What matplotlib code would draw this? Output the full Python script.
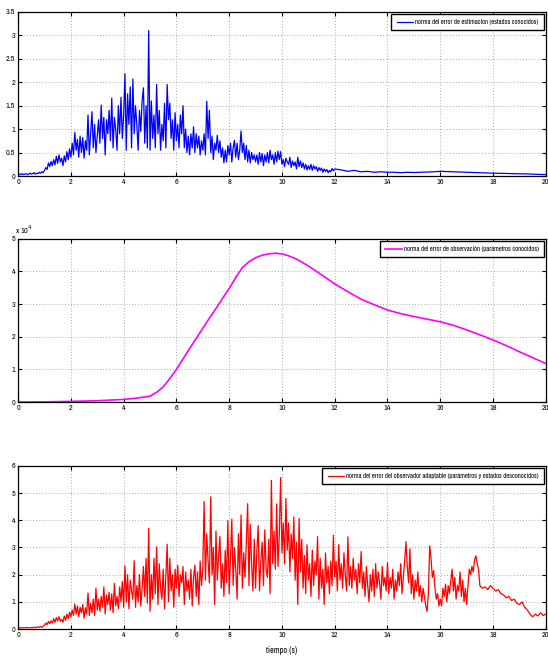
import numpy as np
import matplotlib
matplotlib.use("Agg")
import matplotlib.pyplot as plt
import matplotlib.ticker as ticker
from matplotlib import font_manager

# fuente estrecha tipo Helvetica Narrow, si esta instalada
instaladas = {f.name for f in font_manager.fontManager.ttflist}
candidatas = ["Arial Narrow", "Liberation Sans Narrow", "Archivo Narrow", "PT Sans Narrow",
              "Roboto Condensed", "Fira Sans Condensed", "IBM Plex Sans Condensed", "Asap Condensed"]
estrechas = [c for c in candidatas if c in instaladas]
plt.rcParams["font.family"] = estrechas[:1] + ["Liberation Sans", "DejaVu Sans"]

error_estimacion = [
    0.02, 0.04, 0.03, 0.05, 0.03, 0.04, 0.05, 0.03, 0.04, 0.06, 0.04, 0.05, 0.07, 0.04, 0.06, 0.05, 0.08, 0.06, 0.09, 0.07,
    0.12, 0.18, 0.14, 0.28, 0.20, 0.31, 0.22, 0.35, 0.24, 0.42, 0.27, 0.45, 0.30, 0.38, 0.22, 0.43, 0.30, 0.52, 0.35, 0.58,
    0.40, 0.70, 0.45, 0.93, 0.55, 0.78, 0.40, 0.85, 0.50, 0.82, 0.38, 0.75, 0.55, 1.30, 0.45, 0.90, 1.37, 0.60, 1.10, 0.50,
    0.85, 1.20, 0.70, 1.51, 0.80, 1.25, 0.45, 1.20, 0.90, 1.40, 0.75, 1.66, 0.60, 1.25, 1.00, 0.55, 1.50, 0.90, 1.68, 0.80,
    1.30, 2.18, 0.55, 1.75, 1.10, 1.90, 0.60, 2.07, 0.90, 1.50, 1.10, 0.55, 1.40, 0.95, 1.60, 1.88, 0.70, 1.50, 0.60, 3.10,
    0.55, 1.60, 0.80, 1.30, 0.60, 1.95, 0.90, 1.40, 0.55, 1.10, 0.75, 1.55, 0.60, 1.95, 1.20, 1.55, 0.80, 1.20, 0.55, 1.35,
    0.75, 1.10, 0.60, 1.30, 0.90, 1.50, 0.60, 1.00, 0.50, 0.85, 0.45, 0.90, 0.60, 1.05, 0.50, 0.90, 0.60, 0.85, 0.45, 0.75,
    0.55, 0.90, 0.45, 1.59, 0.80, 1.40, 0.50, 0.85, 0.35, 0.70, 0.55, 0.87, 0.50, 0.75, 0.40, 0.60, 0.28, 0.55, 0.30, 0.65,
    0.45, 0.70, 0.30, 0.60, 0.76, 0.40, 0.70, 0.35, 0.55, 0.96, 0.50, 0.70, 0.35, 0.65, 0.30, 0.55, 0.28, 0.50, 0.35, 0.45,
    0.30, 0.45, 0.25, 0.50, 0.30, 0.48, 0.22, 0.45, 0.30, 0.50, 0.28, 0.55, 0.35, 0.45, 0.25, 0.50, 0.30, 0.53, 0.35, 0.52,
    0.25, 0.35, 0.20, 0.38, 0.30, 0.25, 0.40, 0.18, 0.32, 0.22, 0.30, 0.15, 0.40, 0.20, 0.32, 0.18, 0.28, 0.15, 0.25, 0.13,
    0.22, 0.14, 0.25, 0.12, 0.22, 0.15, 0.20, 0.10, 0.18, 0.12, 0.17, 0.08, 0.15, 0.10, 0.14, 0.07, 0.12, 0.09, 0.16, 0.11,
    0.15,
]
error_estimacion_cola = [
    0.13, 0.10, 0.12, 0.09, 0.10, 0.08, 0.09, 0.08, 0.08, 0.07, 0.08, 0.075, 0.08, 0.085, 0.09, 0.10,
    0.095, 0.09, 0.085, 0.08, 0.075, 0.07, 0.065, 0.06, 0.058, 0.055, 0.05, 0.048, 0.045, 0.04, 0.035, 0.03,
]

t_observacion = [0, 1, 2, 3, 4, 4.5, 5, 5.25, 5.5, 5.75, 6, 6.25, 6.5, 6.75, 7, 7.25, 7.5, 7.75, 8, 8.25,
                 8.5, 8.75, 9, 9.25, 9.5, 9.75, 10, 10.25, 10.5, 10.75, 11, 11.5, 12, 12.5, 13, 13.5, 14,
                 14.5, 15, 15.5, 16, 16.5, 17, 17.5, 18, 18.5, 19, 19.5, 20]
error_observacion = [0, 0.005, 0.02, 0.04, 0.08, 0.12, 0.18, 0.30, 0.46, 0.72, 1.00, 1.32, 1.64, 1.95, 2.26,
                     2.57, 2.87, 3.18, 3.48, 3.82, 4.12, 4.30, 4.42, 4.50, 4.54, 4.56, 4.54, 4.48, 4.40,
                     4.29, 4.17, 3.90, 3.62, 3.38, 3.15, 2.98, 2.82, 2.71, 2.62, 2.54, 2.46, 2.35, 2.21,
                     2.06, 1.90, 1.73, 1.54, 1.36, 1.18]

error_adaptable = [
    0.03, 0.05, 0.04, 0.06, 0.04, 0.05, 0.04, 0.06, 0.05, 0.04, 0.06, 0.05, 0.07, 0.05, 0.06, 0.08, 0.06, 0.09, 0.07, 0.10,
    0.14, 0.22, 0.16, 0.28, 0.20, 0.30, 0.22, 0.38, 0.25, 0.42, 0.30, 0.45, 0.28, 0.36, 0.25, 0.48, 0.32, 0.55, 0.38, 0.62,
    0.45, 0.70, 0.50, 0.92, 0.55, 0.85, 0.45, 0.80, 0.60, 0.90, 0.40, 0.78, 0.55, 1.33, 0.50, 0.95, 0.60, 1.10, 0.50, 1.50,
    0.70, 1.10, 0.65, 1.20, 0.80, 1.55, 0.55, 1.25, 0.90, 1.35, 0.70, 1.30, 0.60, 1.68, 0.85, 1.20, 0.75, 1.55, 1.00, 1.75,
    0.80, 2.32, 1.00, 2.00, 0.75, 1.80, 1.40, 1.10, 2.51, 0.80, 1.60, 1.00, 2.00, 0.85, 1.50, 2.30, 1.20, 2.60, 0.95, 3.70,
    0.65, 2.00, 1.10, 2.60, 1.30, 3.02, 0.90, 2.40, 1.50, 1.10, 2.20, 0.75, 1.90, 3.12, 1.00, 2.60, 1.40, 2.00, 0.80, 2.20,
    1.50, 2.35, 1.20, 2.00, 1.70, 2.30, 0.90, 2.10, 1.40, 1.80, 1.10, 2.20, 0.85, 1.90, 2.35, 1.20, 2.10, 0.90, 2.50, 1.60,
    2.20, 4.69, 1.80, 3.50, 2.50, 1.70, 4.86, 2.00, 3.00, 0.90, 3.60, 1.80, 2.70, 3.40, 1.50, 2.40, 1.20, 2.90, 1.70, 3.98,
    1.30, 2.60, 4.04, 1.60, 3.00, 2.20, 1.10, 3.50, 2.00, 4.20, 1.50, 2.80, 1.90, 3.20, 4.61, 1.60, 3.85, 2.40, 1.40, 3.30,
    1.50, 2.90, 3.80, 1.40, 2.50, 3.20, 1.60, 3.65, 2.20, 1.90, 3.30, 1.30, 5.47, 2.40, 3.60, 2.20, 4.60, 2.30, 3.50, 5.57,
    2.80, 3.90, 2.40, 4.80, 2.90, 3.90, 2.10, 3.50, 2.60, 4.12, 1.80, 3.20, 0.90, 4.07, 2.10, 3.30, 1.50, 2.70, 1.30, 3.10,
    1.80, 2.40, 1.20, 2.90, 1.60, 2.50, 2.00, 3.40, 1.10, 2.60, 1.50, 2.20, 0.90, 2.80, 1.70, 2.30, 1.30, 2.50, 1.60, 3.45,
    1.90, 2.50, 1.40, 3.10, 1.80, 2.40, 1.50, 2.80, 2.00, 1.40, 3.39, 1.60, 2.30, 1.50, 2.60, 1.80, 2.20, 1.30, 2.40, 1.70,
    2.85, 1.50, 2.10, 1.20, 2.30, 1.60, 1.00, 2.00, 1.40, 2.20, 1.20, 2.40, 1.50, 2.10, 1.70, 1.10, 2.30, 1.60, 1.90, 1.40,
    2.45, 1.30, 1.90, 1.50, 2.20, 1.10, 1.80, 1.40, 2.10, 1.60, 2.40, 1.30, 1.90, 2.50, 3.21, 2.30, 1.70, 2.95, 1.30, 2.00,
    1.10, 1.80, 1.40, 2.10, 1.20, 1.60, 1.00, 1.50, 1.20, 0.85, 0.65, 1.30, 3.06, 2.60, 1.90, 2.15, 1.50, 1.10, 1.30, 0.85,
    1.10, 0.85, 1.50, 1.20, 1.65, 1.00, 1.60, 1.30, 1.80, 2.20, 1.40, 1.90, 1.10, 1.60, 1.40, 2.10, 1.20, 1.80, 1.00, 1.50,
    0.90, 1.60, 2.20, 2.00, 2.30, 2.10, 2.55, 2.69, 2.40, 2.20,
]
error_adaptable_cola = [
    1.60, 1.50, 1.55, 1.45, 1.60, 1.50, 1.40, 1.45, 1.30, 1.25, 1.15, 1.20, 1.05,
    1.10, 0.95, 0.90, 1.00, 0.80, 0.70, 0.55, 0.45, 0.55, 0.48, 0.60, 0.50, 0.55,
]

etiquetas = [
    "norma del error de estimacion (estados conocidos)",
    "norma del error de observación (parámetros conocidos)",
    "norma del error del observador adaptable (parámetros y estados desconocidos)",
]

t1 = np.concatenate([np.arange(len(error_estimacion)) * 0.05,
                     12 + 0.25 * np.arange(1, len(error_estimacion_cola) + 1)])
y1 = np.array(error_estimacion + error_estimacion_cola)
t3 = np.concatenate([np.arange(len(error_adaptable)) * 0.05,
                     17.5 + 0.1 * np.arange(len(error_adaptable_cola))])
y3 = np.array(error_adaptable + error_adaptable_cola)
t2 = np.array(t_observacion)
y2 = np.array(error_observacion) * 1e4

fig = plt.figure(figsize=(5.48, 6.58), dpi=100)
posiciones = [
    [0.033, 0.7325, 0.963, 0.2495],
    [0.033, 0.389, 0.963, 0.248],
    [0.033, 0.044, 0.963, 0.248],
]
axes = [fig.add_axes(p) for p in posiciones]


def estilo(ax, ymax, paso):
    ax.set_xlim(0, 20)
    ax.set_ylim(0, ymax)
    ax.set_xticks(np.arange(0, 21, 2))
    ax.set_yticks(np.arange(0, ymax + paso / 2, paso))
    ax.grid(True, linestyle=(0, (1, 2.5)), color="#909090", linewidth=0.6)
    ax.tick_params(direction="in", top=True, right=True, labelsize=5.8, length=3,
                   width=0.8, pad=2)
    for s in ax.spines.values():
        s.set_linewidth(0.9)


ax = axes[0]
ax.plot(t1, y1, color="#0000ff", linewidth=0.9, label=etiquetas[0])
estilo(ax, 3.5, 0.5)
ax.yaxis.set_major_formatter(ticker.FuncFormatter(lambda v, _: f"{v:g}"))

ax = axes[1]
ax.plot(t2, y2, color="#ff00ff", linewidth=1.2, label=etiquetas[1])
estilo(ax, 5e4, 1e4)
ax.yaxis.set_major_formatter(ticker.FuncFormatter(lambda v, _: f"{v / 1e4:g}"))
ax.text(-0.005, 1.015, r"x 10$^4$", transform=ax.transAxes, fontsize=5.8,
        ha="left", va="bottom")

ax = axes[2]
ax.plot(t3, y3, color="#ff0000", linewidth=0.9, label=etiquetas[2])
estilo(ax, 6, 1)
ax.set_xlabel("tiempo (s)", fontsize=6, labelpad=6)

for ax in axes:
    leg = ax.legend(loc="upper right", fontsize=4.8, handlelength=2.5, handletextpad=0.3,
                    borderpad=0.8, borderaxespad=0.25, fancybox=False, framealpha=1)
    leg.get_frame().set_edgecolor("black")
    leg.get_frame().set_linewidth(1.0)

fig.savefig("out.png", dpi=100)
